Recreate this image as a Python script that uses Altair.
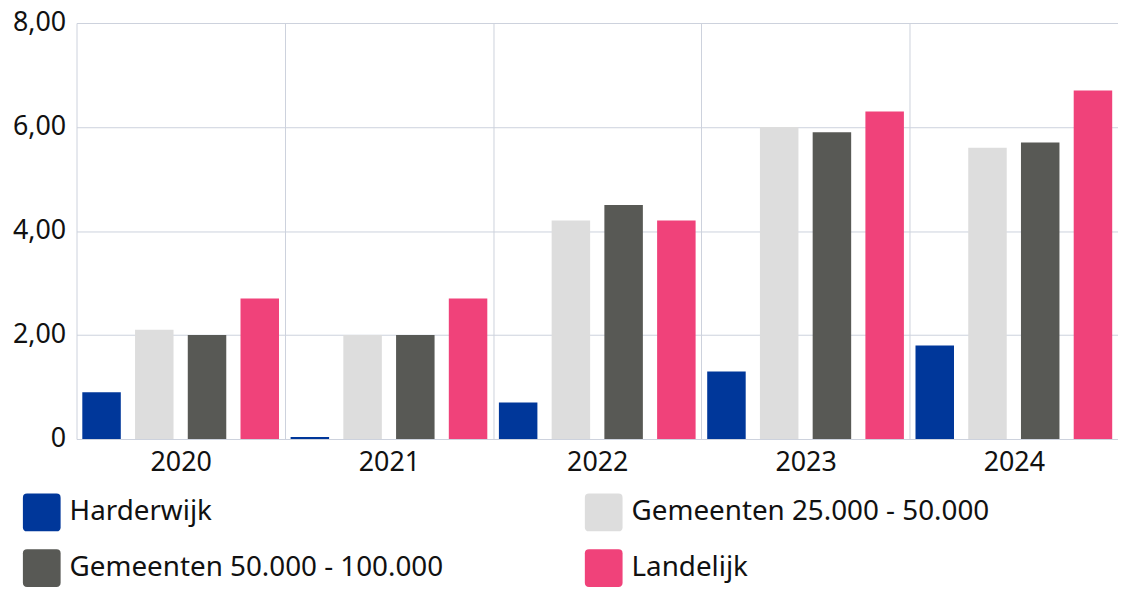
import altair as alt
import pandas as pd

years = ["2020", "2021", "2022", "2023", "2024"]
series = ["Harderwijk", "Gemeenten 25.000 - 50.000", "Gemeenten 50.000 - 100.000", "Landelijk"]
harderwijk = [0.9, 0.04, 0.7, 1.3, 1.8]
gem_25_50 = [2.1, 2.0, 4.2, 6.0, 5.6]
gem_50_100 = [2.0, 2.0, 4.5, 5.9, 5.7]
landelijk = [2.7, 2.7, 4.2, 6.3, 6.7]
colors = ["#00379a", "#dddddd", "#585955", "#f0427a"]
y_ticks = [0, 2, 4, 6, 8]

rows = []
for name, vals in zip(series, [harderwijk, gem_25_50, gem_50_100, landelijk]):
    for yr, v in zip(years, vals):
        rows.append({"jaar": yr, "reeks": name, "waarde": v})
df = pd.DataFrame(rows)

FONT = "Noto Sans"
GRID = "#cdd2dd"
rounded_square = ("M -0.78,-1 L 0.78,-1 Q 1,-1 1,-0.78 L 1,0.78 Q 1,1 0.78,1 "
                  "L -0.78,1 Q -1,1 -1,0.78 L -1,-0.78 Q -1,-1 -0.78,-1 Z")

chart = alt.Chart(df).mark_bar().encode(
    x=alt.X("jaar:N", sort=years, title=None,
            scale=alt.Scale(paddingInner=0, paddingOuter=0),
            axis=alt.Axis(labelAngle=0, tickBand="extent", grid=True, gridColor=GRID,
                          domain=False, ticks=False, labelPadding=11,
                          labelFontSize=27, labelFont=FONT, labelColor="#111111")),
    xOffset=alt.XOffset("reeks:N", sort=series,
                        scale=alt.Scale(paddingInner=0.27, paddingOuter=0.11)),
    y=alt.Y("waarde:Q", title=None,
            scale=alt.Scale(domain=[0, 8], nice=False),
            axis=alt.Axis(values=y_ticks, grid=True, gridColor=GRID, domain=False,
                          ticks=False, labelPadding=11, labelFontSize=27, labelFont=FONT,
                          labelColor="#111111",
                          labelExpr="datum.value == 0 ? '0' : replace(format(datum.value, '.2f'), '.', ',')")),
    color=alt.Color("reeks:N", sort=series,
                    scale=alt.Scale(domain=series, range=colors),
                    legend=alt.Legend(title=None, orient="none", legendX=-54, legendY=474,
                                      direction="horizontal",
                                      columns=2, columnPadding=142, rowPadding=18,
                                      symbolType=rounded_square, symbolSize=1444,
                                      symbolStrokeWidth=0, symbolOpacity=1,
                                      labelOffset=9, labelFontSize=28, labelFont=FONT,
                                      labelColor="#111111", labelLimit=700)),
).properties(
    width=1049,
    height=419,
    autosize=alt.AutoSizeParams(type="none"),
    padding={"left": 69, "top": 13, "right": 0, "bottom": 150},
).configure_view(stroke=None)

chart.save("out.html", embed_options={"renderer": "svg", "actions": False})
